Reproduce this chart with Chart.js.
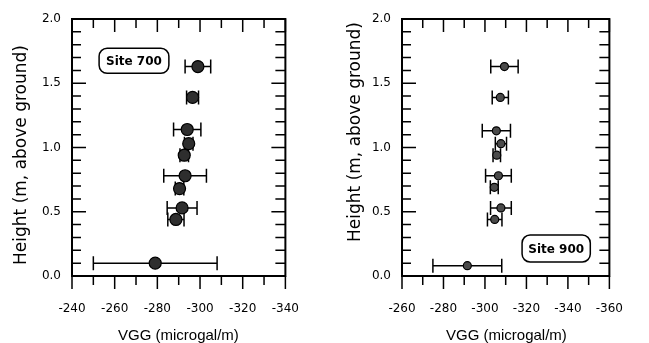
<!DOCTYPE html>
<html><head><meta charset="utf-8">
<script src="https://cdn.jsdelivr.net/npm/chart.js@4/dist/chart.umd.min.js"></script>
<style>
html,body{margin:0;padding:0;background:#fff;}
#w{position:relative;width:649px;height:343px;overflow:hidden;background:#fff;}
canvas{position:absolute;top:0;}
#c1{left:0;} #c2{left:325px;}
</style></head><body>
<div id="w"><canvas id="c1" width="325" height="343"></canvas><canvas id="c2" width="324" height="343"></canvas></div>
<script>
// ---- data ----
const heights700 = [1.63, 1.39, 1.14, 1.03, 0.94, 0.78, 0.68, 0.53, 0.44, 0.10];
const vgg700     = [-299, -296.5, -294, -294.7, -292.6, -293, -290.4, -291.6, -288.7, -279];
const err700     = [6, 2.8, 6.4, 2, 2, 10, 2, 7, 3.8, 29];

const heights900 = [1.63, 1.39, 1.13, 1.03, 0.94, 0.78, 0.69, 0.53, 0.44, 0.08];
const vgg900     = [-309.4, -307.4, -305.5, -307.7, -305.7, -306.5, -304.5, -307.7, -304.7, -291.5];
const err900     = [6.6, 3.9, 6.8, 2.7, 1.8, 6.2, 1.9, 5, 3.5, 16.6];

const xTicks700 = [-240, -260, -280, -300, -320, -340];
const xTicks900 = [-260, -280, -300, -320, -340, -360];
const yTicks = [0.0, 0.5, 1.0, 1.5, 2.0];
const xTitle = 'VGG (microgal/m)';
const yTitle = 'Height (m, above ground)';
const label700 = 'Site 700';
const label900 = 'Site 900';

const FONT = "'DejaVu Sans', sans-serif";
const TFONT = "'Liberation Sans', Arial, sans-serif";

const sitePlugin = {
  id: 'sitePlot',
  beforeDatasetsDraw(chart, args, o) {
    const ctx = chart.ctx, xs = chart.scales.x, ys = chart.scales.y;
    ctx.save();
    ctx.strokeStyle = '#000'; ctx.lineWidth = 1.5;
    o.xv.forEach((v, i) => {
      const y = ys.getPixelForValue(o.yv[i]);
      const x1 = xs.getPixelForValue(v - o.err[i]);
      const x2 = xs.getPixelForValue(v + o.err[i]);
      ctx.beginPath();
      ctx.moveTo(x1, y); ctx.lineTo(x2, y);
      ctx.moveTo(x1, y - o.cap); ctx.lineTo(x1, y + o.cap);
      ctx.moveTo(x2, y - o.cap); ctx.lineTo(x2, y + o.cap);
      ctx.stroke();
    });
    ctx.restore();
  },
  afterDraw(chart, args, o) {
    const ctx = chart.ctx, xs = chart.scales.x, ys = chart.scales.y;
    const a = chart.chartArea;
    ctx.save();
    ctx.strokeStyle = '#000';
    ctx.lineWidth = 1.5;
    ctx.beginPath();
    const lo = Math.min(xs.min, xs.max), hi = Math.max(xs.min, xs.max);
    for (let k = Math.round(lo / 10); k <= Math.round(hi / 10); k++) {
      const v = k * 10, px = xs.getPixelForValue(v);
      const major = (v % 20 === 0);
      ctx.moveTo(px, a.bottom); ctx.lineTo(px, a.bottom + (major ? 13 : 9));
      ctx.moveTo(px, a.top); ctx.lineTo(px, a.top + (major ? 13 : 9));
    }
    for (let i = 0; i <= 20; i++) {
      const py = ys.getPixelForValue(i / 10);
      const major = (i % 5 === 0);
      ctx.moveTo(a.left, py); ctx.lineTo(a.left + (major ? 14 : 9), py);
      ctx.moveTo(a.right, py); ctx.lineTo(a.right - (major ? 14 : 10), py);
    }
    ctx.stroke();
    ctx.lineWidth = 2;
    ctx.strokeRect(a.left, a.top, a.right - a.left, a.bottom - a.top);
    const bx1 = xs.getPixelForValue(o.box.x1), bx2 = xs.getPixelForValue(o.box.x2);
    const by1 = ys.getPixelForValue(o.box.y1), by2 = ys.getPixelForValue(o.box.y2);
    ctx.lineWidth = 1.5;
    ctx.beginPath();
    ctx.roundRect(Math.min(bx1, bx2), Math.min(by1, by2), Math.abs(bx2 - bx1), Math.abs(by2 - by1), 8);
    ctx.fillStyle = '#fff'; ctx.fill(); ctx.stroke();
    ctx.fillStyle = '#000';
    ctx.font = "bold 12px " + FONT;
    ctx.textAlign = 'center'; ctx.textBaseline = 'middle';
    ctx.fillText(o.box.text, (bx1 + bx2) / 2, (by1 + by2) / 2 + 1);
    ctx.font = "15px " + TFONT;
    ctx.textAlign = 'left'; ctx.textBaseline = 'alphabetic';
    ctx.fillText(xTitle, a.left + o.xTitleDx, 340);
    ctx.font = "17px " + FONT;
    ctx.textAlign = 'center';
    ctx.translate(o.yTitleX, o.yTitleY);
    ctx.rotate(-Math.PI / 2);
    ctx.fillText(yTitle, 0, 0);
    ctx.restore();
  }
};

function makeChart(id, p) {
  return new Chart(document.getElementById(id), {
    type: 'scatter',
    data: { datasets: [{
      data: p.yv.map((h, i) => ({ x: p.xv[i], y: h })),
      pointRadius: p.r, pointHoverRadius: p.r,
      pointBackgroundColor: p.fill, pointBorderColor: '#000', pointBorderWidth: 1.2,
      showLine: false
    }]},
    options: {
      responsive: false, animation: false, devicePixelRatio: 1,
      layout: { padding: { left: 0, right: p.padRight, top: 19, bottom: 0 } },
      plugins: {
        legend: { display: false }, tooltip: { enabled: false },
        sitePlot: { xv: p.xv, yv: p.yv, err: p.err, cap: 7, box: p.box,
                    xTitleDx: p.xTitleDx, yTitleX: p.yTitleX, yTitleY: p.yTitleY }
      },
      scales: {
        x: {
          type: 'linear', min: p.xmin, max: p.xmax, reverse: true,
          grid: { display: false, drawTicks: false }, border: { display: false },
          afterBuildTicks: s => { s.ticks = p.xticks.map(v => ({ value: v })); },
          ticks: { padding: 26, color: '#000', font: { family: FONT, size: 12 }, callback: v => String(v) },
          afterFit: s => { s.height = 67; }
        },
        y: {
          type: 'linear', min: 0, max: 2,
          grid: { display: false, drawTicks: false }, border: { display: false },
          afterBuildTicks: s => { s.ticks = yTicks.map(v => ({ value: v })); },
          ticks: { padding: 11, color: '#000', font: { family: FONT, size: 12 }, callback: v => Number(v).toFixed(1) },
          afterFit: s => { s.width = p.yw; }
        }
      }
    },
    plugins: [sitePlugin]
  });
}

makeChart('c1', {
  xv: vgg700, yv: heights700, err: err700, r: 6, fill: '#2e2e2e',
  xmin: -340, xmax: -240, xticks: xTicks700, padRight: 19, yw: 72,
  box: { x1: -252.7, x2: -285.4, y1: 1.772, y2: 1.577, text: label700 },
  xTitleDx: 46, yTitleX: 26, yTitleY: 155
});
makeChart('c2', {
  xv: vgg900, yv: heights900, err: err900, r: 4, fill: '#4a4a4a',
  xmin: -360, xmax: -260, xticks: xTicks900, padRight: 19, yw: 77,
  box: { x1: -317.9, x2: -350.8, y1: 0.319, y2: 0.109, text: label900 },
  xTitleDx: 44, yTitleX: 34.5, yTitleY: 132
});
</script>
</body></html>
